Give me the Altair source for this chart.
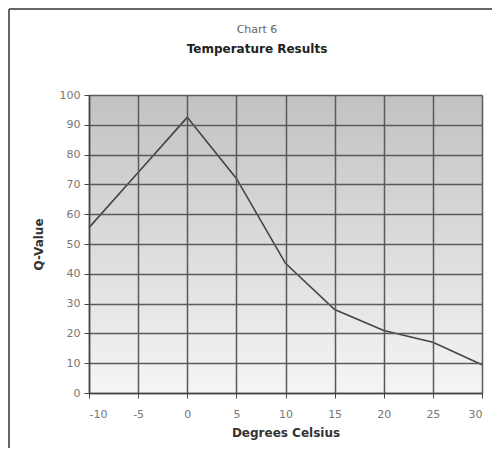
import altair as alt
import pandas as pd

temps = [-10, -5, 0, 5, 10, 15, 20, 25, 30]
q_values = [55.5, 74, 92.5, 72, 43.5, 28, 21, 17, 9.5]
x_ticks = [-10, -5, 0, 5, 10, 15, 20, 25, 30]
y_ticks = [0, 10, 20, 30, 40, 50, 60, 70, 80, 90, 100]
chart_label = "Chart 6"
chart_title = "Temperature Results"

df = pd.DataFrame({"temp": temps, "q": q_values})
one = pd.DataFrame({"a": [0]})

W, H = 393, 298
FONT = "DejaVu Sans"

bg = alt.Chart(one).mark_rect(
    fill=alt.Gradient(
        gradient="linear",
        stops=[alt.GradientStop(color="#c2c2c2", offset=0),
               alt.GradientStop(color="#f5f5f5", offset=1)],
        x1=0, x2=0, y1=0, y2=1),
).encode(x=alt.value(0), x2=alt.value(W), y=alt.value(0), y2=alt.value(H))

frame_v = alt.Chart(one).mark_rule(color="#666666", strokeWidth=2).encode(
    x=alt.value(-80), y=alt.value(-86), y2=alt.value(H + 70))
frame_h = alt.Chart(one).mark_rule(color="#666666", strokeWidth=2).encode(
    x=alt.value(-80), x2=alt.value(W + 20), y=alt.value(-86))

t1 = alt.Chart(one).mark_text(font=FONT, fontSize=11, color="#666666",
                              baseline="middle", align="center").encode(
    x=alt.value(168), y=alt.value(-65), text=alt.value(chart_label))
t2 = alt.Chart(one).mark_text(font=FONT, fontSize=12, fontWeight="bold",
                              color="#222222", baseline="middle",
                              align="center").encode(
    x=alt.value(168), y=alt.value(-46), text=alt.value(chart_title))

line = alt.Chart(df).mark_line(color="#444444", strokeWidth=1.6).encode(
    x=alt.X("temp:Q",
            scale=alt.Scale(domain=[-10, 30], nice=False, zero=False),
            axis=alt.Axis(values=x_ticks, title="Degrees Celsius", grid=True,
                          labelExpr="datum.value",
                          gridColor="#5a5a5a", gridWidth=1.5, gridOpacity=1,
                          domainColor="#444444", domainWidth=1.5,
                          tickColor="#444444", tickSize=5,
                          labelFont=FONT, labelFontSize=11, labelColor="#777777",
                          labelPadding=10, titleFont=FONT, titleFontSize=12,
                          titleFontWeight="bold", titleColor="#333333",
                          titlePadding=8, zindex=1)),
    y=alt.Y("q:Q",
            scale=alt.Scale(domain=[0, 100], nice=False),
            axis=alt.Axis(values=y_ticks, title="Q-Value", grid=True,
                          gridColor="#5a5a5a", gridWidth=1.5, gridOpacity=1,
                          domainColor="#444444", domainWidth=1.5,
                          tickColor="#444444", tickSize=5,
                          labelFont=FONT, labelFontSize=11, labelColor="#777777",
                          labelPadding=4, titleFont=FONT, titleFontSize=12,
                          titleFontWeight="bold", titleColor="#333333",
                          titlePadding=14, zindex=1)),
)

chart = alt.layer(bg, line, frame_v, frame_h, t1, t2).properties(
    width=W, height=H,
    autosize=alt.AutoSizeParams(type="none"),
    padding={"left": 81, "top": 87, "right": 10, "bottom": 55},
).configure_view(stroke=None).configure(background="white")

chart.save("out.html", embed_options={"renderer": "svg", "actions": False})
